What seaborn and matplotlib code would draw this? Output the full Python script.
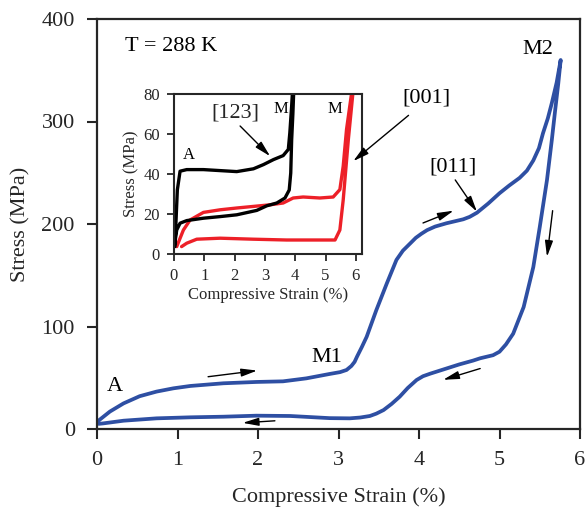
import matplotlib
matplotlib.use("Agg")
import matplotlib.pyplot as plt
import seaborn as sns
import pandas as pd

# ---- main loop: stress-strain of the single crystal at 288 K ----
main_strain_load = [0.0, 0.08, 0.16, 0.33, 0.53, 0.74, 0.95, 1.16, 1.57, 1.98, 2.31, 2.6,
                    2.89, 3.02, 3.1, 3.16, 3.2, 3.23, 3.29, 3.35, 3.47, 3.6, 3.72, 3.8,
                    3.89, 3.96, 4.03, 4.1, 4.2, 4.34, 4.55, 4.63, 4.72, 4.86, 5.0, 5.12,
                    5.25, 5.34, 5.42, 5.49, 5.54, 5.6, 5.65, 5.71, 5.76]
main_stress_load = [7, 12, 17, 25, 32, 36.5, 39.7, 42, 44.6, 45.9, 46.5, 49.4,
                    53.7, 55.5, 57.6, 61.5, 65.5, 70.6, 80, 90, 116, 142, 165, 174,
                    181, 186.5, 190.5, 194, 197.5, 200.7, 204.6, 207, 211, 220, 230, 237.5,
                    245, 252, 262, 274, 288.5, 303, 318, 338, 360]
main_strain_unload = [5.76, 5.73, 5.69, 5.65, 5.59, 5.5, 5.42, 5.3, 5.17, 5.08, 5.0, 4.92,
                      4.76, 4.67, 4.5, 4.34, 4.2, 4.14, 4.05, 3.97, 3.86, 3.76, 3.66, 3.56,
                      3.47, 3.39, 3.27, 3.14, 2.89, 2.4, 1.98, 1.57, 1.16, 0.74, 0.33,
                      0.08, 0.02]
main_stress_unload = [360, 337, 310, 282, 243, 197, 158, 119, 93, 82.5, 75.4, 72,
                      69, 66.7, 63, 59, 55.5, 54, 51.5, 47.8, 40, 31.5, 24.5, 18.5,
                      15, 12.7, 11.2, 10.4, 10.6, 12.7, 13, 12, 11.4, 10.4, 8.1,
                      5.5, 5]

# ---- inset: [123] (black) and [001] (red) ----
s123_strain = [0.03, 0.11, 0.2, 0.42, 0.97, 1.52, 2.07, 2.62, 2.95, 3.28, 3.6, 3.77,
               3.82, 3.88, 3.91, 3.95, 3.92, 3.88, 3.85, 3.8, 3.66, 3.39, 3.06, 2.73,
               2.07, 1.52, 0.97, 0.42, 0.2, 0.09, 0.01]
s123_stress = [3.7, 32, 41.4, 42.2, 42.2, 41.7, 41.2, 42.6, 44.7, 47.2, 49.2, 52.3,
               60.6, 74, 82, 82, 70, 57, 40.5, 32, 28, 25.5, 24.1, 21.8,
               19.6, 18.7, 17.9, 16.7, 15.4, 12, 3.7]
s001_strain = [0.09, 0.31, 0.53, 0.97, 1.52, 2.07, 2.62, 3.17, 3.6, 3.93, 4.26, 4.81,
               5.25, 5.47, 5.58, 5.69, 5.86, 5.91, 5.75, 5.58, 5.47, 5.31, 4.81, 3.71,
               2.62, 1.52, 0.75, 0.42, 0.25]
s001_stress = [3.7, 12, 17, 20.8, 22.1, 23, 23.8, 24.6, 25.5, 28, 28.5, 28,
               28.5, 32.2, 43.9, 62.3, 80.8, 82, 57.3, 27, 12, 7, 7, 7,
               7.4, 7.9, 7.4, 5.4, 3.7]

main_xticks = [0, 1, 2, 3, 4, 5, 6]
main_yticks = [0, 100, 200, 300, 400]
inset_xticks = [0, 1, 2, 3, 4, 5, 6]
inset_yticks = [0, 20, 40, 60, 80]

BLUE = "#2e4fa3"
RED = "#ed2028"

sns.set_style("ticks")
plt.rcParams["font.family"] = ["Liberation Serif", "DejaVu Serif"]

fig = plt.figure(figsize=(5.85, 5.13), dpi=100)
ax = fig.add_axes([97 / 585, 1 - 429 / 513, 483 / 585, 410 / 513])

loop = pd.DataFrame({
    "strain": main_strain_load + main_strain_unload,
    "stress": main_stress_load + main_stress_unload,
})
sns.lineplot(data=loop, x="strain", y="stress", sort=False, estimator=None,
             color=BLUE, lw=2.7, ax=ax, solid_capstyle="round", solid_joinstyle="round")

ax.set_xlim(0, 6)
ax.set_ylim(0, 400)
ax.set_xticks(main_xticks)
ax.set_yticks(main_yticks)
ax.tick_params(direction="out", length=7, width=1.5, labelsize=16, pad=9)
for sp in ax.spines.values():
    sp.set_linewidth(1.6)
ax.set_xlabel("Compressive Strain (%)", fontsize=16, labelpad=12)
ax.set_ylabel("Stress (MPa)", fontsize=16, labelpad=8)

txt = dict(fontsize=16, color="black")
ax.text(0.35, 373, "T = 288 K", ha="left", va="center", **txt)
ax.text(0.22, 41, "A", ha="center", va="center", **txt)
ax.text(2.86, 70, "M1", ha="center", va="center", **txt)
ax.text(5.48, 370, "M2", ha="center", va="center", **txt)
ax.text(4.42, 256, "[011]", ha="center", va="center", **txt)
ax.text(4.09, 323, "[001]", ha="center", va="center", **txt)

arrow = dict(arrowstyle="-|>,head_length=0.8,head_width=0.2", color="black", lw=1.0,
             shrinkA=0, shrinkB=0, mutation_scale=12)
ax.annotate("", xy=(1.99, 57), xytext=(1.38, 51), arrowprops=arrow)
ax.annotate("", xy=(1.81, 6), xytext=(2.21, 8), arrowprops=arrow)
ax.annotate("", xy=(4.30, 48), xytext=(4.76, 59), arrowprops=arrow)
ax.annotate("", xy=(4.43, 213), xytext=(4.05, 201), arrowprops=arrow)
ax.annotate("", xy=(5.59, 168), xytext=(5.66, 213), arrowprops=arrow)
ax.annotate("", xy=(4.72, 212), xytext=(4.45, 243), arrowprops=arrow)

# ---- inset ----
ins = fig.add_axes([174 / 585, 1 - 254 / 513, 188 / 585, 160 / 513])
d123 = pd.DataFrame({"strain": s123_strain, "stress": s123_stress})
d001 = pd.DataFrame({"strain": s001_strain, "stress": s001_stress})
sns.lineplot(data=d001, x="strain", y="stress", sort=False, estimator=None,
             color=RED, lw=2.4, ax=ins, solid_joinstyle="round")
sns.lineplot(data=d123, x="strain", y="stress", sort=False, estimator=None,
             color="black", lw=2.4, ax=ins, solid_joinstyle="round")
ins.set_xlim(0, 6.2)
ins.set_ylim(0, 80)
ins.set_xticks(inset_xticks)
ins.set_yticks(inset_yticks)
ins.tick_params(direction="out", length=5, width=1.3, labelsize=12, pad=5)
for sp in ins.spines.values():
    sp.set_linewidth(1.5)
ins.set_xlabel("Compressive Strain (%)", fontsize=12, labelpad=2)
ins.set_ylabel("Stress (MPa)", fontsize=12, labelpad=3)

itxt = dict(fontsize=12, color="black")
ins.text(0.5, 49.7, "A", ha="center", va="center", **itxt)
ins.text(3.53, 72.4, "M", ha="center", va="center", **itxt)
ins.text(5.29, 72.4, "M", ha="center", va="center", **itxt)
ins.text(2.01, 70.7, "[123]", ha="center", va="center", fontsize=16)
ins.annotate("", xy=(3.17, 48.9), xytext=(2.18, 64), arrowprops=arrow)
ins.annotate("", xy=(5.91, 46.4), xytext=(3.87, 306), textcoords=ax.transData,
             arrowprops=arrow, annotation_clip=False)

fig.savefig("out.png", dpi=100)
